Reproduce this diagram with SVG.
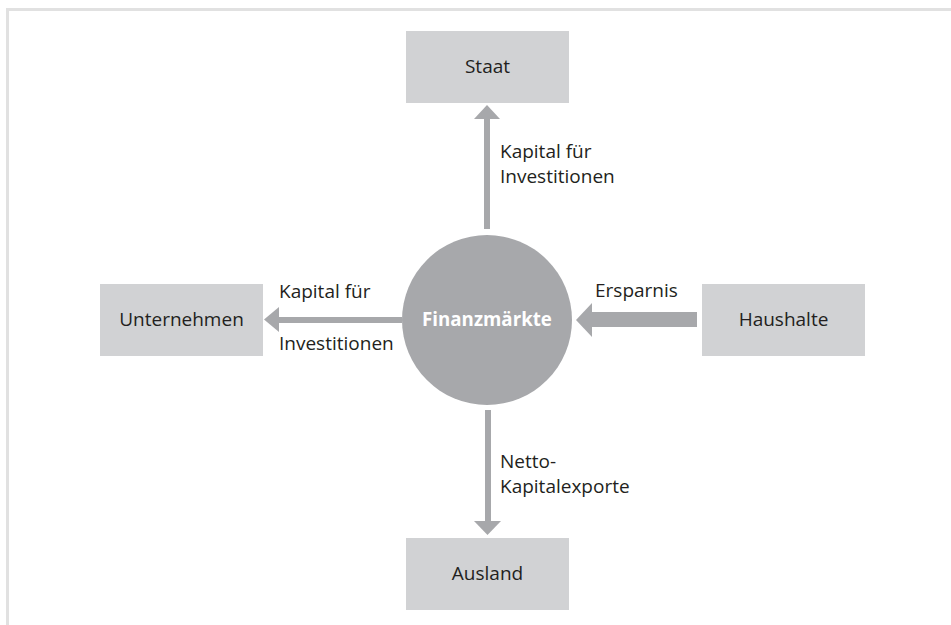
<svg xmlns="http://www.w3.org/2000/svg" width="951" height="625" viewBox="0 0 951 625">
<style>
.box{fill:#d1d2d4}
.fill{fill:#a7a8ab}
.t{font-family:"Open Sans","Noto Sans","Liberation Sans",sans-serif;font-size:19px;fill:#231f20}
.c{text-anchor:middle}
.b{font-weight:bold;fill:#ffffff;font-size:18.7px}
</style>
<rect x="7.5" y="9.5" width="960" height="640" fill="#ffffff" stroke="#e1e1e1" stroke-width="3"/>
<g id="connectors">
<g id="to-staat"><rect class="fill" x="484" y="118" width="6" height="111"/><polygon class="fill" points="474,119 500,119 487,105"/></g>
<g id="to-unternehmen"><rect class="fill" x="278" y="317" width="124" height="6"/><polygon class="fill" points="279,307 279,332 264,319.5"/></g>
<g id="to-ausland"><rect class="fill" x="485" y="410" width="6" height="113"/><polygon class="fill" points="474,521 501,521 487.5,535"/></g>
<g id="from-haushalte"><rect class="fill" x="591" y="312" width="106" height="15"/><polygon class="fill" points="592,303 592,337 576,320"/></g>
<text class="t" x="500" y="158">Kapital für</text>
<text class="t" x="500" y="183">Investitionen</text>
<text class="t" x="279" y="298">Kapital für</text>
<text class="t" x="279" y="350">Investitionen</text>
<text class="t" x="595" y="297">Ersparnis</text>
<text class="t" x="500" y="468">Netto-</text>
<text class="t" x="500" y="493">Kapitalexporte</text>
</g>
<g id="finanzmaerkte"><circle class="fill" cx="487" cy="320" r="85"/><text class="t c b" x="487" y="326">Finanzmärkte</text></g>
<g id="staat"><rect class="box" x="406" y="31" width="163" height="72"/><text class="t c" x="487.5" y="73">Staat</text></g>
<g id="unternehmen"><rect class="box" x="100" y="284" width="163" height="72"/><text class="t c" x="181.5" y="326">Unternehmen</text></g>
<g id="haushalte"><rect class="box" x="702" y="284" width="163" height="72"/><text class="t c" x="783.5" y="326">Haushalte</text></g>
<g id="ausland"><rect class="box" x="406" y="538" width="163" height="72"/><text class="t c" x="487.5" y="580">Ausland</text></g>
</svg>
